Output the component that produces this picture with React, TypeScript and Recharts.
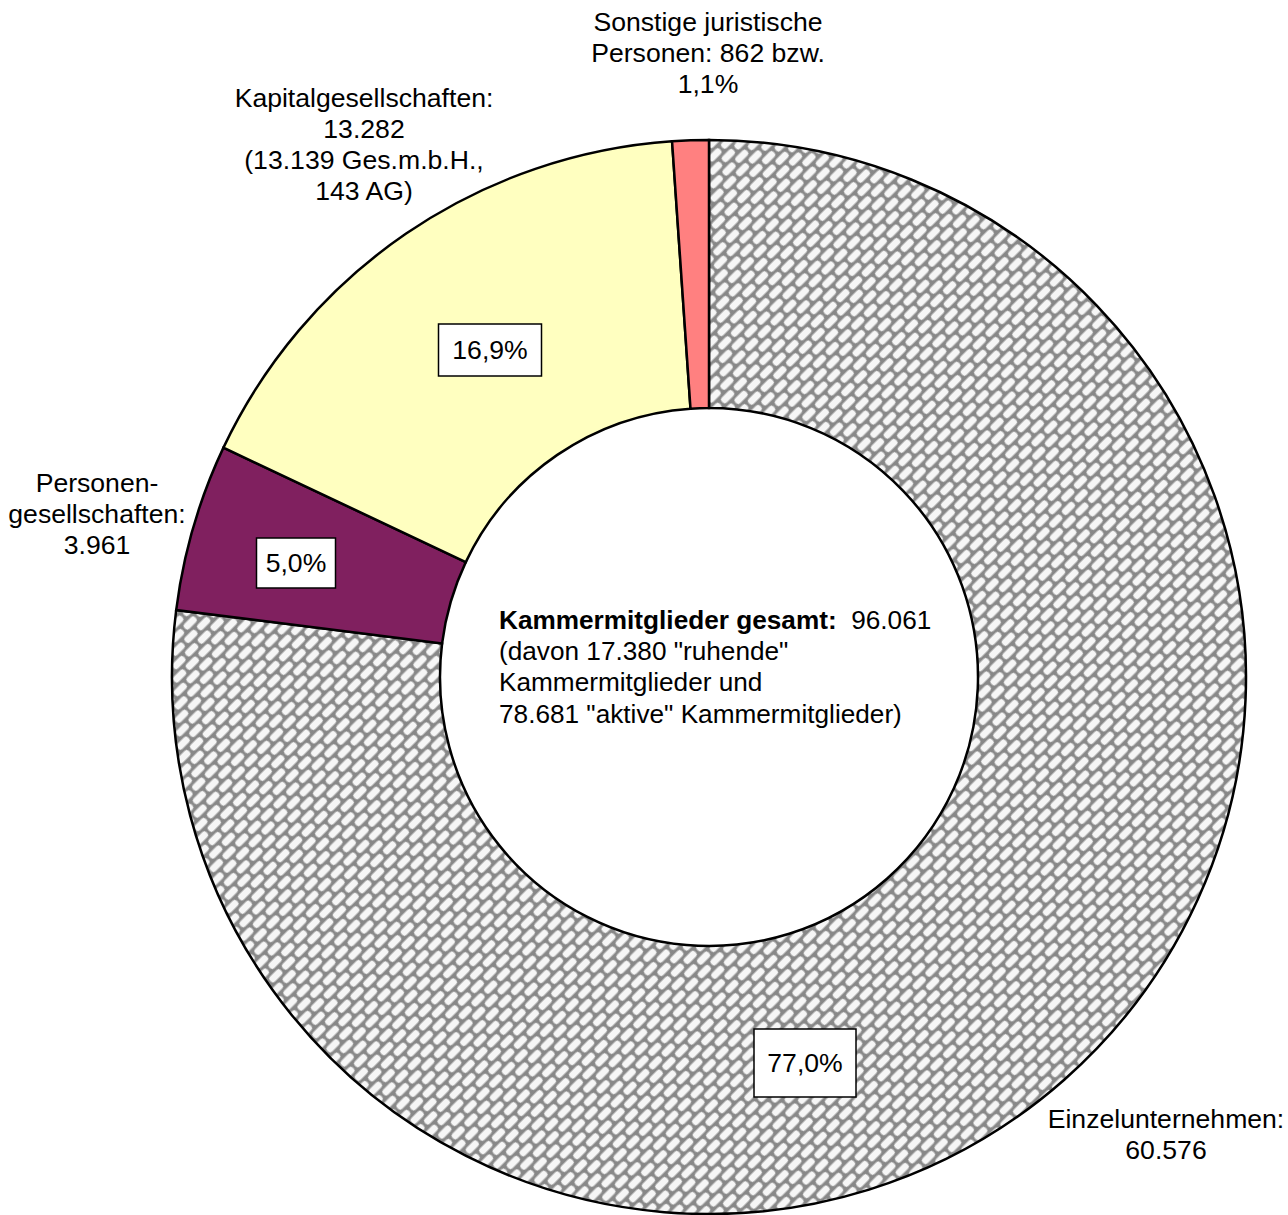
import { Pie, PieChart, Cell } from "recharts";

// Kammermitglieder nach Rechtsform
const categories = [
  "Einzelunternehmen",
  "Personengesellschaften",
  "Kapitalgesellschaften",
  "Sonstige juristische Personen",
];
const members = [60576, 3961, 13282, 862];
const gmbhCount = 13139;
const agCount = 143;
const totalMembers = 96061;
const dormantMembers = 17380;
const activeMembers = 78681;

const COLORS = ["url(#brick)", "#80205f", "#ffffc0", "#ff8080"];
const FONT = "'Liberation Sans', Arial, sans-serif";
const FS = 26.6;
const LH = 31;

const fmt = (n: number) => n.toLocaleString("de-DE");
const pct = (v: number, total: number) =>
  (Math.round((v / total) * 1000) / 10).toFixed(1).replace(".", ",") + "%";

const sum = members.reduce((a, b) => a + b, 0);
const data = categories.map((name, i) => ({ name, value: members[i] }));

function outerLines(i: number): string[] {
  const v = members[i];
  if (i === 0) return ["Einzelunternehmen:", fmt(v)];
  if (i === 1) return ["Personen-", "gesellschaften:", fmt(v)];
  if (i === 2)
    return ["Kapitalgesellschaften:", fmt(v), `(${fmt(gmbhCount)} Ges.m.b.H.,`, `${agCount} AG)`];
  return ["Sonstige juristische", `Personen: ${fmt(v)} bzw.`, pct(v, sum)];
}

// label placement relative to the pie centre (moved by hand in the original)
const textAt = [
  { dx: 457, dy: 442 },
  { dx: -612, dy: -194 },
  { dx: -345, dy: -579 },
  { dx: -1, dy: -655 },
];
const boxAt = [
  { dx: 96, dy: 386, w: 102, h: 68 },
  { dx: -413, dy: -114, w: 79, h: 50 },
  { dx: -219, dy: -327, w: 103, h: 52 },
  null,
];

function SliceLabel(props: any) {
  const { cx, cy, index, value } = props;
  const t = textAt[index];
  const b = boxAt[index];
  const lines = outerLines(index);
  return (
    <g>
      {lines.map((l, k) => (
        <text
          key={k}
          x={cx + t.dx}
          y={cy + t.dy + k * LH}
          textAnchor="middle"
          dominantBaseline="central"
          fontFamily={FONT}
          fontSize={FS}
          fill="#000"
        >
          {l}
        </text>
      ))}
      {b && (
        <g>
          <rect
            x={cx + b.dx - b.w / 2}
            y={cy + b.dy - b.h / 2}
            width={b.w}
            height={b.h}
            fill="#fff"
            stroke="#000"
            strokeWidth={1.5}
          />
          <text
            x={cx + b.dx}
            y={cy + b.dy}
            textAnchor="middle"
            dominantBaseline="central"
            fontFamily={FONT}
            fontSize={FS}
            fill="#000"
          >
            {pct(value, sum)}
          </text>
        </g>
      )}
    </g>
  );
}

export default function App() {
  const cx = 709;
  const cy = 677;
  return (
    <div style={{ position: "absolute", left: 0, top: 0, width: 1288, height: 1215, background: "#fff" }}>
      <PieChart width={1288} height={1215} margin={{ top: 0, right: 0, bottom: 0, left: 0 }}>
        <defs>
          <pattern
            id="brick"
            patternUnits="userSpaceOnUse"
            width={18}
            height={20}
            patternTransform="rotate(-45)"
          >
            <rect x={0} y={0} width={18} height={20} fill="#888" />
            <rect x={1.5} y={1.5} width={15} height={7} rx={3} fill="#f6f6f6" />
            <rect x={-7.5} y={11.5} width={15} height={7} rx={3} fill="#f6f6f6" />
            <rect x={10.5} y={11.5} width={15} height={7} rx={3} fill="#f6f6f6" />
          </pattern>
        </defs>
        <Pie
          data={data}
          dataKey="value"
          nameKey="name"
          cx={cx}
          cy={cy}
          innerRadius={269}
          outerRadius={537}
          startAngle={90}
          endAngle={-270}
          stroke="#000"
          strokeWidth={2.5}
          paddingAngle={0}
          label={SliceLabel}
          labelLine={false}
          isAnimationActive={false}
        >
          {data.map((d, i) => (
            <Cell key={d.name} fill={COLORS[i]} />
          ))}
        </Pie>
        <text fontFamily={FONT} fontSize={26.2} fill="#000">
          <tspan x={499} y={cy - 57} dominantBaseline="central">
            <tspan fontWeight="bold">Kammermitglieder gesamt:</tspan>
            <tspan>{"\u00a0 " + fmt(totalMembers)}</tspan>
          </tspan>
          <tspan x={499} y={cy - 26} dominantBaseline="central">
            {`(davon ${fmt(dormantMembers)} "ruhende"`}
          </tspan>
          <tspan x={499} y={cy + 5} dominantBaseline="central">
            Kammermitglieder und
          </tspan>
          <tspan x={499} y={cy + 37} dominantBaseline="central">
            {`${fmt(activeMembers)} "aktive" Kammermitglieder)`}
          </tspan>
        </text>
      </PieChart>
    </div>
  );
}
